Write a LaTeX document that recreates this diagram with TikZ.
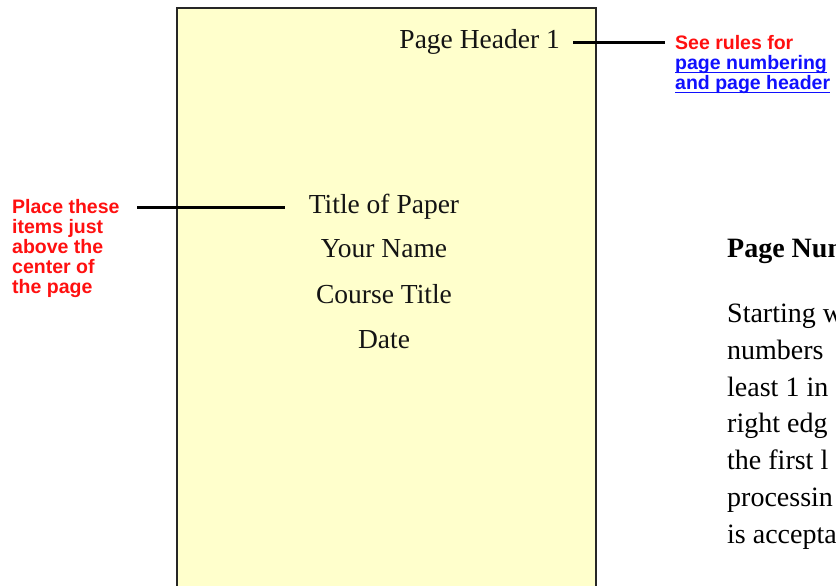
\documentclass[tikz,border=0pt]{standalone}
\usepackage{fontspec}
\setmainfont{Liberation Serif}
\newfontfamily\arialfont{Liberation Sans}
\definecolor{pageyellow}{HTML}{FFFFCC}
\definecolor{pageink}{HTML}{141414}
\definecolor{notered}{HTML}{FF1010}
\definecolor{noteblue}{HTML}{1010FF}
\tikzset{
  pageframe/.style={draw=black!85, line width=2pt, fill=pageyellow},
  pagetext/.style={inner sep=0pt, text=pageink, font=\fontsize{27.5}{30}\selectfont},
  redlbl/.style={inner sep=0pt, text=notered, align=left, font=\arialfont\bfseries\fontsize{19.5}{20}\selectfont},
  bluelbl/.style={inner sep=0pt, text=noteblue, font=\arialfont\bfseries\fontsize{19.5}{20}\selectfont},
  uline/.style={draw=noteblue, line width=1.4pt},
  pointer/.style={draw=black, line width=3pt},
  bodyhead/.style={inner sep=0pt, text=black, font=\bfseries\fontsize{28}{36.7}\selectfont},
  bodytext/.style={inner sep=0pt, text=black, align=left, font=\fontsize{28}{36.7}\selectfont}
}
\begin{document}
\begin{tikzpicture}[x=1pt,y=-1pt]
\useasboundingbox (0,0) rectangle (836,586);
\begin{scope}
\clip (0,0) rectangle (836,586);
\fill[white] (0,0) rectangle (836,586);
% the page
\path[pageframe] (177,8) rectangle (596,640);
% page contents
\node[pagetext, anchor=base east] (hdr) at (560,49) {Page Header 1};
\node[pagetext, anchor=base] (title) at (384,213) {Title of Paper};
\node[pagetext, anchor=base] (name) at (384,257) {Your Name};
\node[pagetext, anchor=base] (course) at (384,303) {Course Title};
\node[pagetext, anchor=base] (date) at (384,348) {Date};
% notes (base anchor of a multi-line node = baseline of its last line)
\node[redlbl, anchor=base west] (place) at (12,293) {Place these\\items just\\above the\\center of\\the page};
\node[redlbl, anchor=base west] (see) at (675,50) {See rules for};
\node[bluelbl, anchor=base west] (link1) at (675,70) {page numbering};
\node[bluelbl, anchor=base west] (link2) at (675,90) {and page header};
\draw[uline] ([yshift=-2.5pt]link1.base west) -- ([yshift=-2.5pt]link1.base east);
\draw[uline] ([yshift=-2.5pt]link2.base west) -- ([yshift=-2.5pt]link2.base east);
% pointer lines
\coordinate (r1) at (573,43);
\coordinate (r2) at (665,43);
\coordinate (l1) at (137,207);
\coordinate (l2) at (285,207);
\draw[pointer] (r1) -- (r2);
\draw[pointer] (l1) -- (l2);
% body text at right (cut off by the picture edge)
\node[bodyhead, anchor=base west] (head) at (727,257) {Page Num};
\node[bodytext, anchor=base west] (body) at (727,543) {Starting w\\numbers\\least 1 in\\right edg\\the first l\\processin\\is accepta};
\end{scope}
\end{tikzpicture}
\end{document}
